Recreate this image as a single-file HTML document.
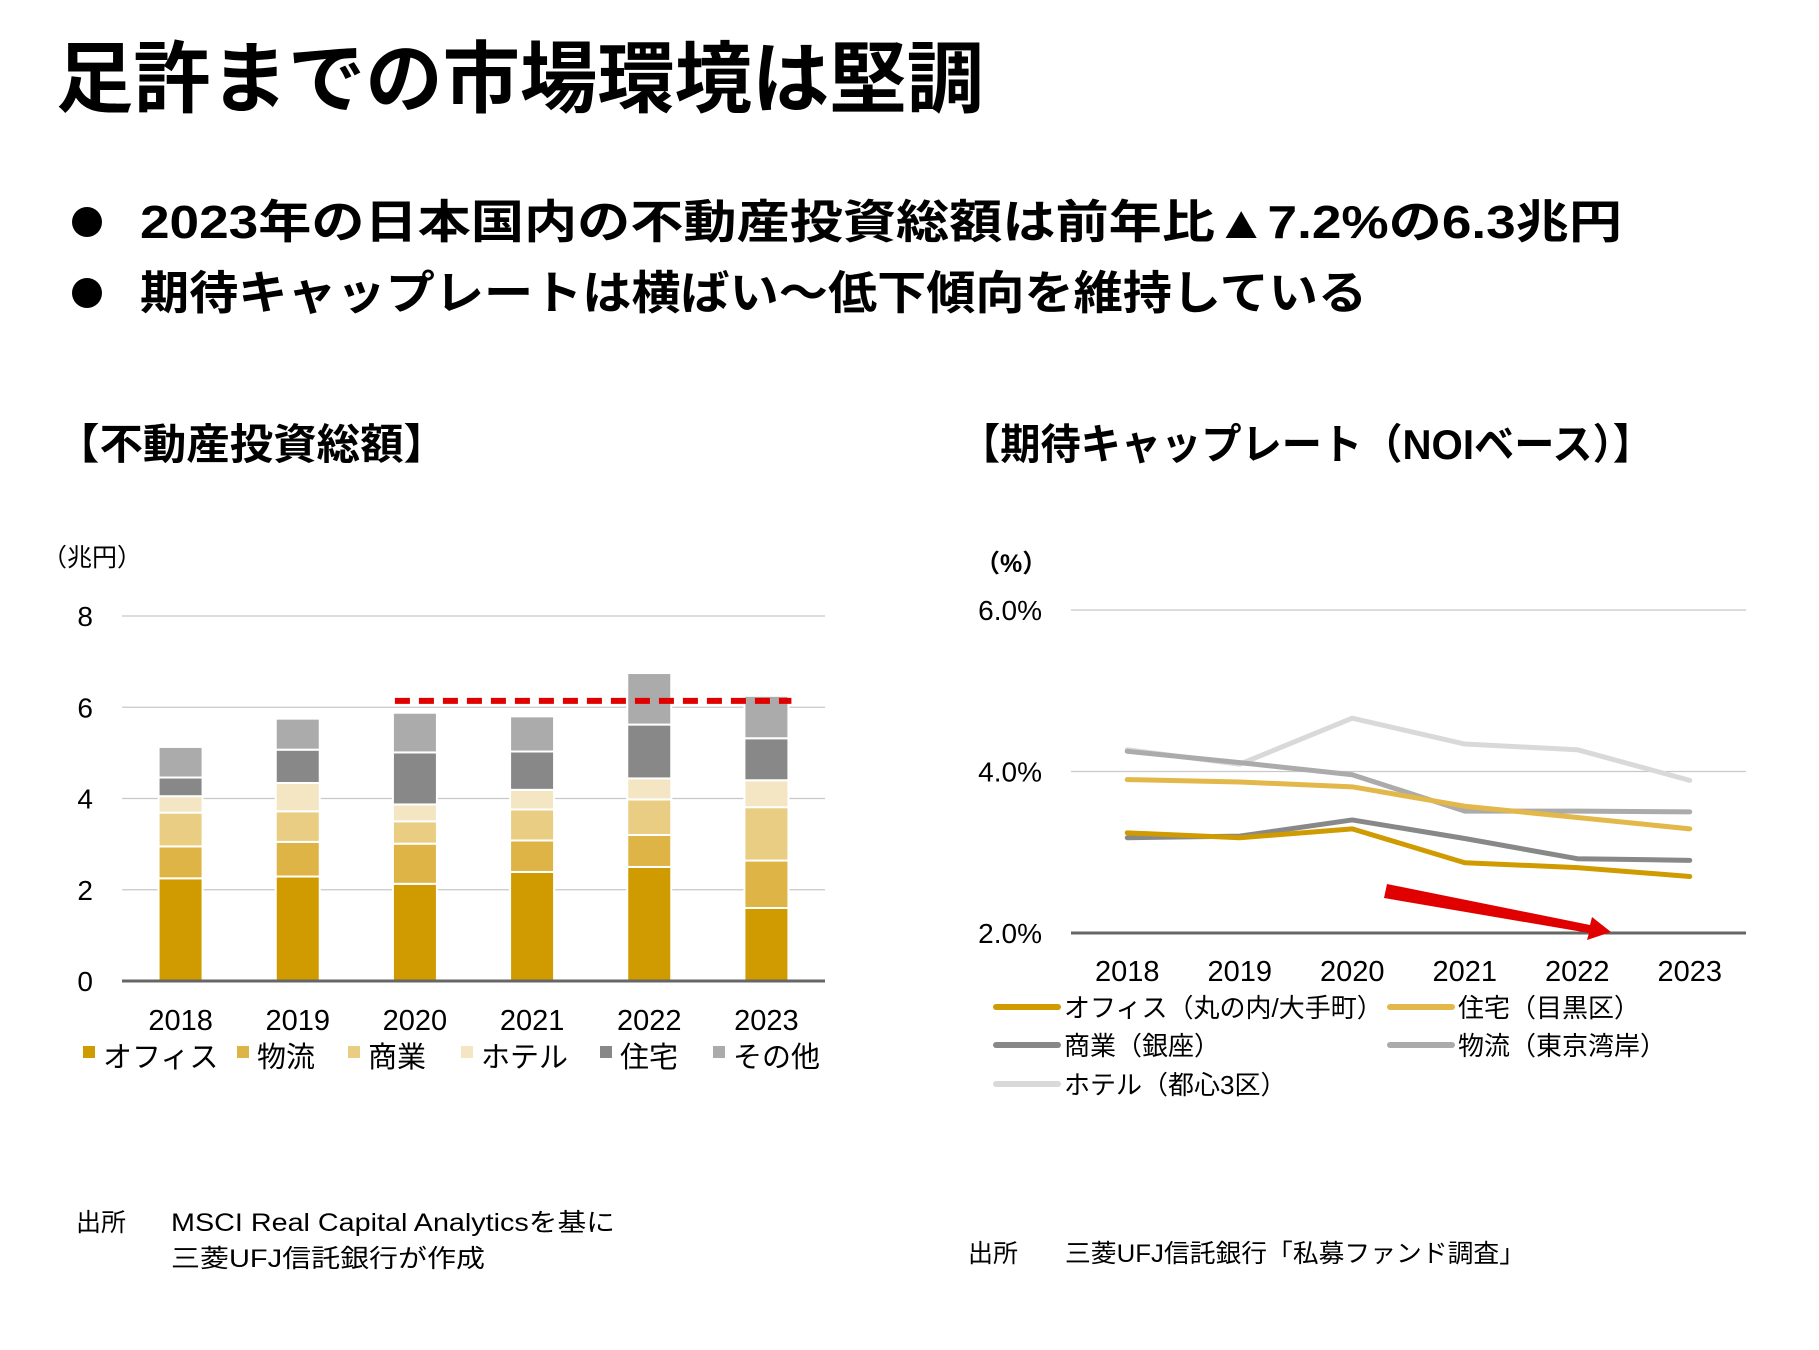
<!DOCTYPE html>
<html lang="ja"><head><meta charset="utf-8">
<style>
html,body{margin:0;padding:0;background:#fff;}
svg{display:block;font-family:"Liberation Sans","Noto Sans CJK JP",sans-serif;}
</style></head>
<body>
<svg id="page" width="1819" height="1350" viewBox="0 0 1819 1350" xmlns="http://www.w3.org/2000/svg">
<text x="56" y="106" font-size="78" font-weight="bold" fill="#000" textLength="928" lengthAdjust="spacingAndGlyphs">足許までの市場環境は堅調</text>
<circle cx="87" cy="222" r="15" fill="#000"/>
<text x="140" y="238" font-size="46" font-weight="bold" fill="#000" textLength="1482" lengthAdjust="spacingAndGlyphs">2023年の日本国内の不動産投資総額は前年比▲7.2%の6.3兆円</text>
<circle cx="87" cy="293" r="15" fill="#000"/>
<text x="140" y="309" font-size="46" font-weight="bold" fill="#000" textLength="1227" lengthAdjust="spacingAndGlyphs">期待キャップレートは横ばい～低下傾向を維持している</text>
<text x="56" y="459" font-size="42" font-weight="bold" fill="#000" textLength="391" lengthAdjust="spacingAndGlyphs">【不動産投資総額】</text>
<text x="960" y="459" font-size="42" font-weight="bold" fill="#000" textLength="693" lengthAdjust="spacingAndGlyphs">【期待キャップレート（NOIベース）】</text>
<g id="bar-chart"></g>
<g id="line-chart"></g>
<text x="76" y="1231" font-size="25" fill="#000">出所</text>
<text x="171" y="1231" font-size="25" fill="#000" textLength="444" lengthAdjust="spacingAndGlyphs">MSCI Real Capital Analyticsを基に</text>
<text x="171" y="1267" font-size="25" fill="#000" textLength="314" lengthAdjust="spacingAndGlyphs">三菱UFJ信託銀行が作成</text>
<text x="968" y="1262" font-size="25" fill="#000">出所</text>
<text x="1065" y="1262" font-size="25" fill="#000" textLength="460" lengthAdjust="spacingAndGlyphs">三菱UFJ信託銀行「私募ファンド調査」</text>
</svg>
<script>
// ---- bar chart data ----
const barYears = ["2018","2019","2020","2021","2022","2023"];
const barSeriesNames = ["オフィス","物流","商業","ホテル","住宅","その他"];
const officeVals = [2.25,2.29,2.13,2.39,2.50,1.60];
const logisticsVals = [0.70,0.76,0.88,0.69,0.70,1.04];
const retailVals = [0.74,0.67,0.49,0.68,0.78,1.17];
const hotelVals = [0.36,0.62,0.37,0.43,0.46,0.59];
const residentialVals = [0.41,0.73,1.14,0.84,1.18,0.92];
const otherVals = [0.67,0.68,0.87,0.77,1.13,0.93];
const barTicks = [0,2,4,6,8];
const refLineValue = 6.14;
// ---- line chart data ----
const lineYears = ["2018","2019","2020","2021","2022","2023"];
const lineSeriesNames = ["オフィス（丸の内/大手町）","住宅（目黒区）","商業（銀座）","物流（東京湾岸）","ホテル（都心3区）"];
const officeRate = [3.24,3.18,3.29,2.87,2.81,2.70];
const residentialRate = [3.90,3.87,3.81,3.57,3.43,3.29];
const retailRate = [3.18,3.20,3.40,3.17,2.92,2.90];
const logisticsRate = [4.25,4.11,3.96,3.51,3.51,3.50];
const hotelRate = [4.27,4.09,4.66,4.34,4.27,3.89];
const lineTicks = [2,4,6];

const NS="http://www.w3.org/2000/svg";
function mk(parent,tag,attrs,text){const e=document.createElementNS(NS,tag);for(const k in attrs)e.setAttribute(k,attrs[k]);if(text!==undefined)e.textContent=text;parent.appendChild(e);return e;}

// ---- bar chart ----
(function(){
  const g=document.getElementById('bar-chart');
  const x0=122,x1=825,y0=981,yTop=616,vmax=8;
  const yS=v=>y0-(y0-yTop)*v/vmax;
  const step=(x1-x0)/barYears.length;
  const xC=i=>x0+step*(i+0.5);
  const bw=44;
  barTicks.forEach(t=>{
    if(t>0){const l=mk(g,'line',{x1:x0,x2:x1,y1:yS(t),y2:yS(t),stroke:'#c8c8c8','stroke-width':1.3});
    
    }
    const tx=mk(g,'text',{x:93,y:yS(t)+10,'font-size':28,'text-anchor':'end',fill:'#000'},String(t));
    
    
  });
  const yl=mk(g,'text',{x:42,y:566,'font-size':25,fill:'#000'},'（兆円）');
  
  
  const series=[officeVals,logisticsVals,retailVals,hotelVals,residentialVals,otherVals];
  const colors=['#CF9B00','#DDB445','#E8CD82','#F4E6C2','#888888','#ABABAB'];
  barYears.forEach((yr,i)=>{
    let acc=0;
    series.forEach((s,k)=>{
      const a=yS(acc),b=yS(acc+s[i]);acc+=s[i];
      const r=mk(g,'rect',{x:xC(i)-bw/2,y:b,width:bw,height:a-b,fill:colors[k],stroke:'#fff','stroke-width':2});
      
      
    });
    const lb=mk(g,'text',{x:xC(i),y:1030,'font-size':29,'text-anchor':'middle',fill:'#000'},yr);
    
    
  });
  const ax=mk(g,'line',{x1:x0,x2:x1,y1:y0,y2:y0,stroke:'#666','stroke-width':3});
  
  
  const rl=mk(g,'line',{x1:xC(2)-20,x2:xC(5)+25,y1:yS(refLineValue),y2:yS(refLineValue),stroke:'#E00000','stroke-width':6,'stroke-dasharray':'15 9'});
  
  
  const lx=[83,237,348,461,600,713];
  barSeriesNames.forEach((n,k)=>{
    const sq=mk(g,'rect',{x:lx[k],y:1046,width:12,height:12,fill:colors[k]});
    
    
    const t=mk(g,'text',{x:lx[k]+20,y:1067,'font-size':29,fill:'#000'},n);
    
    
  });
})();

// ---- line chart ----
(function(){
  const g=document.getElementById('line-chart');
  const x0=1071,x1=1746,y2=933,y6=610;
  const yS=v=>y2-(y2-y6)*(v-2)/4;
  const step=(x1-x0)/lineYears.length;
  const xC=i=>x0+step*(i+0.5);
  lineTicks.forEach(t=>{
    const l=mk(g,'line',{x1:x0,x2:x1,y1:yS(t),y2:yS(t),stroke:t===2?'#666':'#c8c8c8','stroke-width':t===2?3:1.3});
    
    
    const tx=mk(g,'text',{x:1042,y:yS(t)+10,'font-size':28,'text-anchor':'end',fill:'#000'},t.toFixed(1)+'%');
    
    
  });
  const yl=mk(g,'text',{x:975,y:572,'font-size':25,'font-weight':'bold',fill:'#000'},'（%）');
  
  
  lineYears.forEach((yr,i)=>{
    const lb=mk(g,'text',{x:xC(i),y:981,'font-size':29,'text-anchor':'middle',fill:'#000'},yr);
    
    
  });
  const series=[officeRate,residentialRate,retailRate,logisticsRate,hotelRate];
  const colors=['#CF9B00','#E3B84A','#888888','#ABABAB','#D9D9D9'];
  const order=[4,3,1,2,0];
  order.forEach(k=>{
    const pts=series[k].map((v,i)=>xC(i)+','+yS(v)).join(' ');
    const p=mk(g,'polyline',{points:pts,fill:'none',stroke:colors[k],'stroke-width':5,'stroke-linejoin':'round','stroke-linecap':'round'});
    
    
  });
  const ar=mk(g,'polygon',{points:'1387,884 1590,925 1592,917 1611,932 1587,940 1589,933 1384,898',fill:'#E00000'});
  
  
  const pos=[[996,1007],[1390,1007],[996,1045],[1390,1045],[996,1084]];
  lineSeriesNames.forEach((n,k)=>{
    const l=mk(g,'line',{x1:pos[k][0],x2:pos[k][0]+62,y1:pos[k][1],y2:pos[k][1],stroke:colors[k],'stroke-width':6,'stroke-linecap':'round'});
    
    
    const t=mk(g,'text',{x:pos[k][0]+68,y:pos[k][1]+10,'font-size':26,fill:'#000'},n);
    
    
  });
})();
</script>
</body></html>
